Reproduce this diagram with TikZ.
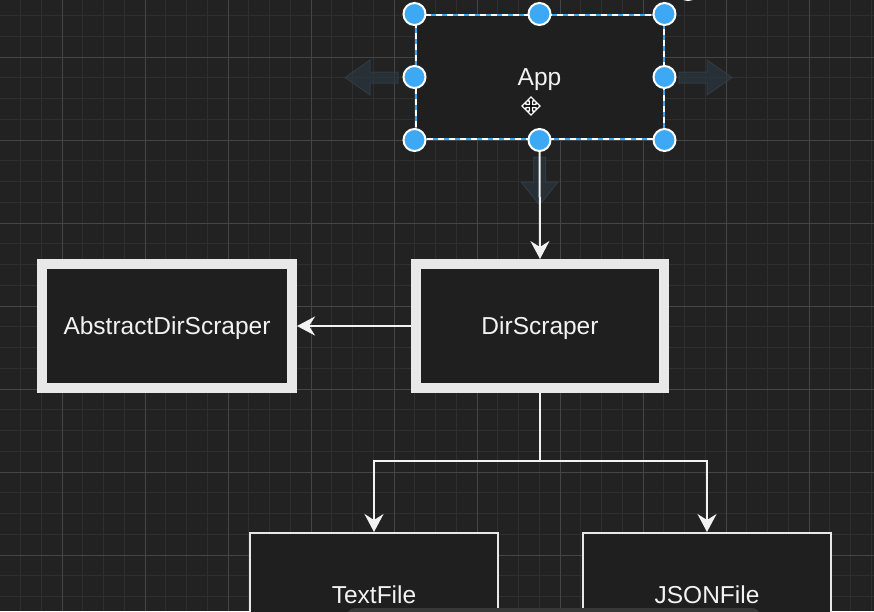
\documentclass[tikz,border=0pt]{standalone}
\usepackage{fontspec}
\setmainfont{Liberation Sans}
\usetikzlibrary{arrows.meta}
\definecolor{canvas}{HTML}{222222}
\definecolor{gridminor}{HTML}{2F2F2F}
\definecolor{gridmajor}{HTML}{454545}
\definecolor{boxfill}{HTML}{1F1F1F}
\definecolor{boxline}{HTML}{E8E8E8}
\definecolor{wire}{HTML}{F2F2F2}
\definecolor{handle}{HTML}{3DA9F4}
\definecolor{ghostfill}{HTML}{2B3640}
\definecolor{ghostline}{HTML}{34414C}
\definecolor{toolbar}{HTML}{383838}
\begin{document}
\begin{tikzpicture}[x=1pt, y=-1pt]
	\tikzstyle{classbox} = [rectangle, fill=boxfill, draw=boxline, text=wire, minimum width=248pt, minimum height=124pt, text height=17pt, text depth=0pt, font=\fontsize{24.5}{28}\selectfont]
	\tikzstyle{thick box} = [classbox, line width=10pt]
	\tikzstyle{thin box} = [classbox, line width=2pt]
	\tikzstyle{conn} = [draw=wire, line width=2pt, -{Stealth[length=18pt,width=19pt,inset=6pt]}]
	\tikzstyle{ghost} = [fill=ghostfill, draw=ghostline, line width=1pt, opacity=0.7]
	\tikzstyle{knob} = [fill=handle, draw=white, line width=2pt]
	\useasboundingbox (0,0) rectangle (874,611);
	\clip (0,0) rectangle (874,611);
	% canvas and grid
	\fill[canvas] (0,0) rectangle (874,611);
	\foreach \gx in {20.5,41.25,...,874} \draw[gridminor, line width=1pt] (\gx,0) -- (\gx,611);
	\foreach \gy in {15.5,36.25,...,611} \draw[gridminor, line width=1pt] (0,\gy) -- (874,\gy);
	\foreach \gx in {62,145,...,874} \draw[gridmajor, line width=1pt] (\gx,0) -- (\gx,611);
	\foreach \gy in {57,140,...,611} \draw[gridmajor, line width=1pt] (0,\gy) -- (874,\gy);
	% boxes
	\node[classbox, draw=handle, line width=2pt, postaction={draw=white, line width=2pt, dash pattern=on 6pt off 5pt}] (app) at (539.5,77) {App};
	\node[thick box, minimum width=250pt] (abstract) at (167,326) {AbstractDirScraper};
	\node[thick box] (dirscraper) at (540,326) {DirScraper};
	\node[thin box] (textfile) at (374,595) {TextFile};
	\node[thin box] (jsonfile) at (707,595) {JSONFile};
	\coordinate (split) at (540,460.5);
	% connectors
	\path[conn] (dirscraper.west) -- (abstract.east);
	\draw[wire, line width=2pt] (dirscraper.south) -- (split);
	\path[conn] (split) -| (textfile.north);
	\path[conn] (split) -| (jsonfile.north);
	% selection hints on App
	\filldraw[ghost] (345,77.5) -- (370,60) -- (370,72) -- (398,72) -- (398,83) -- (370,83) -- (370,95) -- cycle;
	\filldraw[ghost] (732,77.5) -- (707,60) -- (707,72) -- (679,72) -- (679,83) -- (707,83) -- (707,95) -- cycle;
	\filldraw[ghost] (539.5,205) -- (521,182) -- (533.5,182) -- (533.5,157) -- (545.5,157) -- (545.5,182) -- (558,182) -- cycle;
	\path[conn] (app.south) -- (dirscraper.north);
	\foreach \an in {north west,north,north east,west,east,south west,south,south east}
		\filldraw[knob] (app.\an) circle (11pt);
	\filldraw[knob] (688,-10) circle (10pt);
	% move cursor
	\filldraw[fill=black, draw=white, line width=1.2pt, shift={(531,106)}]
		(0,-9) -- (4,-5) -- (1.5,-5) -- (1.5,-1.5) -- (5,-1.5) -- (5,-4) -- (9,0) -- (5,4) -- (5,1.5) -- (1.5,1.5) -- (1.5,5) -- (4,5) -- (0,9) -- (-4,5) -- (-1.5,5) -- (-1.5,1.5) -- (-5,1.5) -- (-5,4) -- (-9,0) -- (-5,-4) -- (-5,-1.5) -- (-1.5,-1.5) -- (-1.5,-5) -- (-4,-5) -- cycle;
	% toolbar edge
	\fill[toolbar, rounded corners=8pt] (347,608) rectangle (760,640);
\end{tikzpicture}
\end{document}
